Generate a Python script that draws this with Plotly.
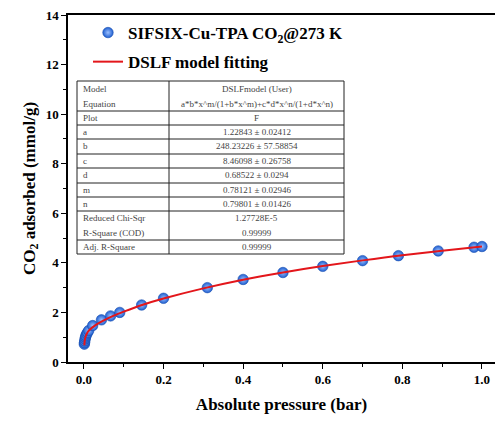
import plotly.graph_objects as go

# ---- data ----
pressure = [0.001, 0.0015, 0.002, 0.003, 0.004, 0.005, 0.007, 0.009, 0.012, 0.022,
            0.044, 0.067, 0.09, 0.145, 0.2, 0.31, 0.40, 0.50, 0.60, 0.70, 0.79,
            0.89, 0.98, 1.0]
uptake = [0.72, 0.78, 0.85, 0.93, 1.0, 1.06, 1.13, 1.19, 1.27, 1.47,
          1.70, 1.86, 2.0, 2.30, 2.57, 3.0, 3.33, 3.61, 3.86, 4.09, 4.29,
          4.48, 4.63, 4.66]

fit_p = [0.001, 0.002, 0.003, 0.005, 0.0075, 0.01, 0.015, 0.02, 0.03, 0.05, 0.075,
         0.1, 0.15, 0.2, 0.3, 0.4, 0.5, 0.6, 0.7, 0.8, 0.9, 1.0]
fit_q = [0.67, 0.85, 0.95, 1.06, 1.15, 1.22, 1.31, 1.38, 1.50, 1.68, 1.87,
         2.03, 2.32, 2.56, 2.97, 3.32, 3.61, 3.87, 4.10, 4.31, 4.49, 4.66]

table_labels = ["Model", "Equation", "Plot", "a", "b", "c", "d", "m", "n",
                "Reduced Chi-Sqr", "R-Square (COD)", "Adj. R-Square"]
table_values = ["DSLFmodel (User)", "a*b*x^m/(1+b*x^m)+c*d*x^n/(1+d*x^n)", "F",
                "1.22843 ± 0.02412", "248.23226 ± 57.58854", "8.46098 ± 0.26758",
                "0.68522 ± 0.0294", "0.78121 ± 0.02946", "0.79801 ± 0.01426",
                "1.27728E-5", "0.99999", "0.99999"]

x_ticks = [0.0, 0.2, 0.4, 0.6, 0.8, 1.0]
y_ticks = [0, 2, 4, 6, 8, 10, 12, 14]

# ---- layout geometry (pixels) ----
W, H = 495, 421
ML, MR, MT, MB = 68, 0, 15, 59
PW, PH = W - ML - MR, H - MT - MB

def px(x):
    return (x - ML) / PW

def py(y):
    return (H - MB - y) / PH

FONT = "Liberation Serif"

fig = go.Figure()
fig.add_trace(go.Scatter(
    x=pressure, y=uptake, mode="markers",
    name="<b>SIFSIX-Cu-TPA CO<sub>2</sub>@273 K</b>",
    marker=dict(size=10.5, color="#1f5fd0",
                gradient=dict(type="radial", color="#9cc0ff"),
                line=dict(color="#1a4fb0", width=0.6)),
    legendgroup="g1",
))
fig.add_trace(go.Scatter(
    x=fit_p, y=fit_q, mode="lines", line_shape="spline",
    name="<b>DSLF model fitting</b>",
    line=dict(color="#e3161b", width=2),
    legendgroup="g2",
))

# ---- table ----
tl, tr, tdiv = 77, 344, 169
row_lines = [81, 111, 125, 139, 154, 168, 183, 197, 211, 240, 254]
text_rows = [89, 104, 118, 132, 146, 161, 175, 190, 204, 218, 233, 247]
shapes = []
for yl in row_lines:
    shapes.append(dict(type="line", xref="paper", yref="paper",
                       x0=px(tl), x1=px(tr), y0=py(yl), y1=py(yl),
                       line=dict(color="#222", width=1)))
for xl in [tl, tdiv, tr]:
    shapes.append(dict(type="line", xref="paper", yref="paper",
                       x0=px(xl), x1=px(xl), y0=py(row_lines[0]), y1=py(row_lines[-1]),
                       line=dict(color="#222", width=1)))
annotations = []
for lab, val, yt in zip(table_labels, table_values, text_rows):
    annotations.append(dict(xref="paper", yref="paper", x=px(tl + 4), y=py(yt),
                            text=lab, showarrow=False, xanchor="left", yanchor="middle",
                            font=dict(family=FONT, size=9, color="#444")))
    annotations.append(dict(xref="paper", yref="paper", x=px((tdiv + tr) / 2), y=py(yt),
                            text=val, showarrow=False, xanchor="center", yanchor="middle",
                            font=dict(family=FONT, size=9, color="#444")))

fig.update_layout(
    width=W, height=H,
    margin=dict(l=ML, r=MR, t=MT, b=MB),
    paper_bgcolor="white", plot_bgcolor="white",
    font=dict(family=FONT, color="black"),
    showlegend=True,
    legend=dict(x=px(88), y=py(15), xanchor="left", yanchor="top",
                bgcolor="rgba(0,0,0,0)", font=dict(family=FONT, size=17, color="black"),
                tracegroupgap=4, itemwidth=30),
    shapes=shapes, annotations=annotations,
    xaxis=dict(range=[-0.04, 1.0327], tickvals=x_ticks,
               ticktext=[f"<b>{v:.1f}</b>" for v in x_ticks],
               showline=True, linecolor="black", linewidth=1.5, mirror=True,
               ticks="outside", ticklen=5, tickwidth=1.2, tickcolor="black",
               minor=dict(dtick=0.1, ticks="outside", ticklen=3, tickwidth=1, tickcolor="black"),
               showgrid=False, zeroline=False,
               tickfont=dict(family=FONT, size=13, color="black"),
               title=dict(text="<b>Absolute pressure (bar)</b>", standoff=12,
                          font=dict(family=FONT, size=17, color="black"))),
    yaxis=dict(range=[0, 14], tickvals=y_ticks,
               ticktext=[f"<b>{v}</b>" for v in y_ticks],
               showline=True, linecolor="black", linewidth=1.5, mirror=False,
               ticks="outside", ticklen=5, tickwidth=1.2, tickcolor="black",
               minor=dict(dtick=1, ticks="outside", ticklen=3, tickwidth=1, tickcolor="black"),
               showgrid=False, zeroline=False,
               tickfont=dict(family=FONT, size=13, color="black"),
               title=dict(text="<b>CO<sub>2</sub> adsorbed (mmol/g)</b>", standoff=6,
                          font=dict(family=FONT, size=17, color="black"))),
)

fig.write_html("out.html")
